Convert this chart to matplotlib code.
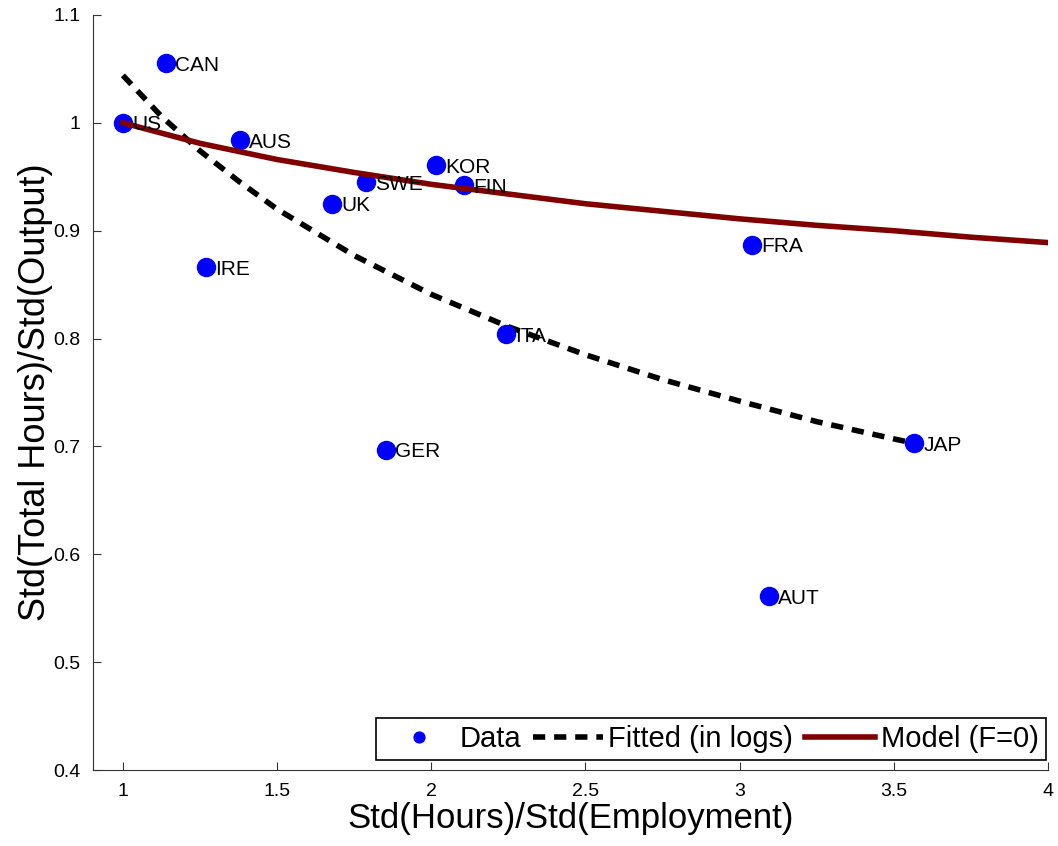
import numpy as np
import matplotlib.pyplot as plt

plt.rcParams['font.family'] = ['Liberation Sans', 'DejaVu Sans']
plt.rcParams['xtick.direction'] = 'in'
plt.rcParams['ytick.direction'] = 'in'

# country data
countries = ['US', 'CAN', 'AUS', 'IRE', 'UK', 'SWE', 'GER', 'KOR', 'FIN', 'ITA', 'FRA', 'AUT', 'JAP']
x_data = [1.0, 1.139, 1.38, 1.269, 1.678, 1.788, 1.853, 2.015, 2.106, 2.242, 3.04, 3.095, 3.566]
y_data = [1.0, 1.0555, 0.984, 0.866, 0.925, 0.945, 0.697, 0.961, 0.942, 0.804, 0.887, 0.561, 0.703]

# fitted curve (in logs)
x_fit = [1.0, 1.125, 1.25, 1.375, 1.5, 1.75, 2.0, 2.25, 2.5, 2.75, 3.0, 3.25, 3.5, 3.566]
y_fit = [1.044, 1.006, 0.974, 0.946, 0.920, 0.877, 0.841, 0.811, 0.785, 0.762, 0.742, 0.723, 0.707, 0.703]

# model (F=0)
x_mod = [1.0, 1.25, 1.5, 1.75, 2.0, 2.25, 2.5, 2.75, 3.0, 3.25, 3.5, 3.75, 4.0]
y_mod = [1.0, 0.981, 0.966, 0.954, 0.943, 0.934, 0.925, 0.918, 0.911, 0.905, 0.900, 0.894, 0.889]

fig = plt.figure(figsize=(10.58, 8.46), dpi=100)
ax = fig.add_axes([0.0879, 0.0898, 0.9026, 0.8925])

ax.plot(x_data, y_data, 'o', color='#0000ff', markersize=13, label='Data', zorder=3)
ax.plot(x_fit, y_fit, '--', color='k', linewidth=4, dashes=(2.2, 1.6), label='Fitted (in logs)', zorder=2)
ax.plot(x_mod, y_mod, '-', color='#800000', linewidth=4, label='Model (F=0)', zorder=4)

for c, xv, yv in zip(countries, x_data, y_data):
    ax.text(xv + 0.03, yv - 0.002, c, fontsize=15, va='center', ha='left', zorder=5)

ax.set_xlim(0.903, 4)
ax.set_ylim(0.4, 1.1)
ax.set_xticks([1, 1.5, 2, 2.5, 3, 3.5, 4])
ax.set_xticklabels(['1', '1.5', '2', '2.5', '3', '3.5', '4'])
ax.set_yticks([0.4, 0.5, 0.6, 0.7, 0.8, 0.9, 1.0, 1.1])
ax.set_yticklabels(['0.4', '0.5', '0.6', '0.7', '0.8', '0.9', '1', '1.1'])
ax.tick_params(labelsize=14, length=6, color='#333333', pad=9)
ax.spines['top'].set_visible(False)
ax.spines['right'].set_visible(False)
ax.spines['left'].set_color('#333333')
ax.spines['bottom'].set_color('#333333')

ax.set_xlabel('Std(Hours)/Std(Employment)', fontsize=25, labelpad=2)
ax.set_ylabel('Std(Total Hours)/Std(Output)', fontsize=26, labelpad=0)

leg = ax.legend(loc='lower right', bbox_to_anchor=(0.998, 0.013), ncol=3, fontsize=21,
                frameon=True, fancybox=False, edgecolor='k', framealpha=1,
                handlelength=2.4, handletextpad=0.2, columnspacing=0.4, borderpad=0.25,
                markerscale=0.6, borderaxespad=0)
leg.get_frame().set_linewidth(1.2)

plt.savefig('out.png', dpi=100)
